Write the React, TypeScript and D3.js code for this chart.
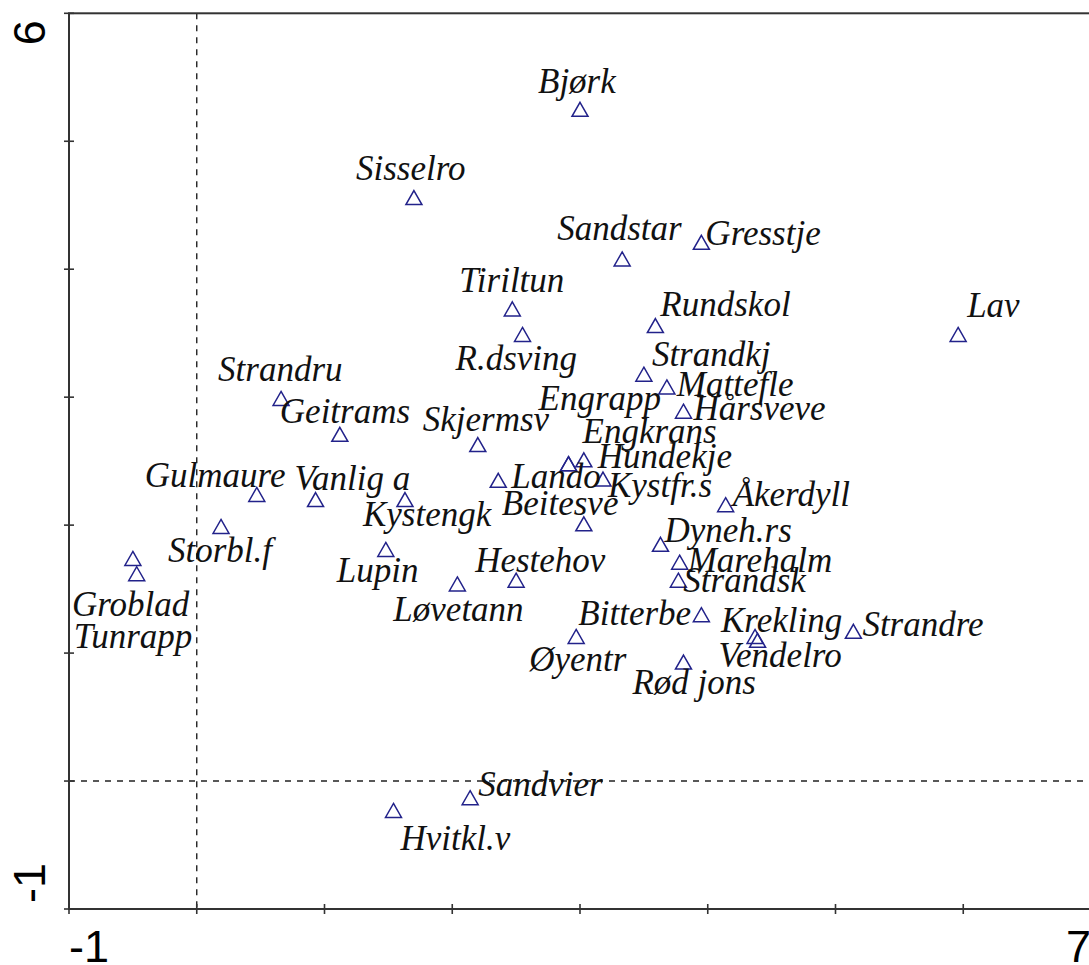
import React, { FC, useRef, useEffect } from "react";
import { select, scaleLinear } from "d3";

// species scores (axis 1 / axis 2)
const species = [
  "Bjørk", "Sisselro", "Sandstar", "Gresstje", "Tiriltun", "R.dsving", "Rundskol",
  "Lav", "Strandkj", "Mattefle", "Hårsveve", "Engrapp", "Engkrans", "Hundekje",
  "Strandru", "Geitrams", "Skjermsv", "Gulmaure", "Vanlig a", "Kystengk", "Lando",
  "Kystfr.s", "Beitesve", "Åkerdyll", "Storbl.f", "Groblad", "Tunrapp", "Dyneh.rs",
  "Marehalm", "Strandsk", "Lupin", "Løvetann", "Hestehov", "Bitterbe", "Krekling",
  "Vendelro", "Strandre", "Øyentr", "Rød jons", "Sandvier", "Hvitkl.v",
];

const axis1 = [
  3.0, 1.7, 3.33, 3.95, 2.47, 2.55, 3.59,
  5.96, 3.5, 3.68, 3.81, 2.91, 2.91, 3.03,
  0.66, 1.12, 2.2, 0.47, 0.93, 1.63, 2.36,
  3.18, 3.03, 4.14, 0.19, -0.5, -0.47, 3.63,
  3.78, 3.77, 1.48, 2.04, 2.5, 3.95, 4.37,
  4.39, 5.14, 2.97, 3.81, 2.14, 1.54,
];

const axis2 = [
  5.25, 4.56, 4.08, 4.21, 3.69, 3.49, 3.56,
  3.49, 3.18, 3.08, 2.89, 2.48, 2.48, 2.51,
  2.99, 2.71, 2.63, 2.24, 2.2, 2.2, 2.35,
  2.36, 2.01, 2.16, 1.99, 1.74, 1.62, 1.85,
  1.71, 1.57, 1.81, 1.54, 1.57, 1.3, 1.13,
  1.1, 1.17, 1.13, 0.93, -0.13, -0.23,
];

const xTicks = [-1, 0, 1, 2, 3, 4, 5, 6, 7];
const yTicks = [-1, 0, 1, 2, 3, 4, 5, 6];
const xTickLabels = [-1, 7];
const yTickLabels = [-1, 6];

// label placement, px from symbol centre to text start / baseline
const labelOffsets: [number, number][] = [
  [-42, -16], [-58, -18], [-65, -19], [4, 3], [-53, -17], [-67, 36], [5, -10],
  [9, -17], [8, -8], [10, 9], [10, 9], [-30, -54], [14, -21], [14, 8],
  [-63, -17], [-60, -11], [-55, -14], [-112, -7], [-21, -10], [-42, 26], [13, 8],
  [5, 18], [-82, -9], [7, 1], [-53, 36], [-61, 58], [-63, 74], [4, -2],
  [8, 10], [5, 12], [-49, 33], [-64, 37], [-41, -8], [-123, 10], [-34, -4],
  [-39, 27], [9, 5], [-47, 35], [-51, 32], [8, -2], [7, 40],
];

const W = 1089;
const H = 965;
const left = 69;
const right = 1091;
const top = 13.3;
const bottom = 909;

const Ordination: FC = () => {
  const ref = useRef<SVGSVGElement>(null);

  useEffect(() => {
    const svg = select(ref.current);
    svg.selectAll("*").remove();

    const x = scaleLinear().domain([-1, 7]).range([left, right]);
    const y = scaleLinear().domain([-1, 6]).range([bottom, top]);

    const g = svg.append("g");

    // zero lines
    g.append("line")
      .attr("x1", x(0))
      .attr("x2", x(0))
      .attr("y1", top)
      .attr("y2", bottom)
      .style("stroke", "#222")
      .style("stroke-width", 1.4)
      .style("stroke-dasharray", "6,6");

    g.append("line")
      .attr("x1", left)
      .attr("x2", right)
      .attr("y1", y(0))
      .attr("y2", y(0))
      .style("stroke", "#222")
      .style("stroke-width", 1.4)
      .style("stroke-dasharray", "6,6");

    // frame
    g.append("rect")
      .attr("x", left)
      .attr("y", top)
      .attr("width", right - left)
      .attr("height", bottom - top)
      .style("fill", "none")
      .style("stroke", "#333")
      .style("stroke-width", 2);

    g.selectAll(".xtick")
      .data(xTicks)
      .enter()
      .append("line")
      .attr("x1", (d) => x(d))
      .attr("x2", (d) => x(d))
      .attr("y1", bottom - 5)
      .attr("y2", bottom + 5)
      .style("stroke", "#333")
      .style("stroke-width", 1.6);

    g.selectAll(".ytick")
      .data(yTicks)
      .enter()
      .append("line")
      .attr("x1", left - 5)
      .attr("x2", left + 5)
      .attr("y1", (d) => y(d))
      .attr("y2", (d) => y(d))
      .style("stroke", "#333")
      .style("stroke-width", 1.6);

    g.selectAll(".xlab")
      .data(xTickLabels)
      .enter()
      .append("text")
      .attr("x", (d) => x(d))
      .attr("y", 962)
      .attr("text-anchor", (d, i) => (i === 0 ? "start" : "end"))
      .style("font-family", "'Liberation Sans', Arial, sans-serif")
      .style("font-size", "45px")
      .style("fill", "#000")
      .text((d) => String(d));

    g.selectAll(".ylab")
      .data(yTickLabels)
      .enter()
      .append("text")
      .attr("transform", (d, i) =>
        i === 0
          ? `translate(45,${y(d) - 6}) rotate(-90)`
          : `translate(45,${y(d) + 32}) rotate(-90)`
      )
      .attr("text-anchor", "start")
      .style("font-family", "'Liberation Sans', Arial, sans-serif")
      .style("font-size", "45px")
      .style("fill", "#000")
      .text((d) => String(d));

    const points = species.map((name, i) => ({
      name,
      px: x(axis1[i]),
      py: y(axis2[i]),
      off: labelOffsets[i],
    }));

    g.selectAll(".sym")
      .data(points)
      .enter()
      .append("path")
      .attr("d", (d) => `M${d.px},${d.py - 7}L${d.px + 8},${d.py + 7}L${d.px - 8},${d.py + 7}Z`)
      .style("fill", "none")
      .style("stroke", "#22228a")
      .style("stroke-width", 1.5);

    g.selectAll(".lbl")
      .data(points)
      .enter()
      .append("text")
      .attr("x", (d) => d.px + d.off[0])
      .attr("y", (d) => d.py + d.off[1])
      .style("font-family", "'Liberation Serif', 'Times New Roman', serif")
      .style("font-style", "italic")
      .style("font-size", "35px")
      .style("fill", "#111")
      .text((d) => d.name);
  }, []);

  return <svg ref={ref} width={W} height={H} style={{ display: "block" }} />;
};

export default function App() {
  return (
    <div style={{ position: "absolute", left: 0, top: 0, width: W, height: H, overflow: "hidden", background: "#fff" }}>
      <Ordination />
    </div>
  );
}
